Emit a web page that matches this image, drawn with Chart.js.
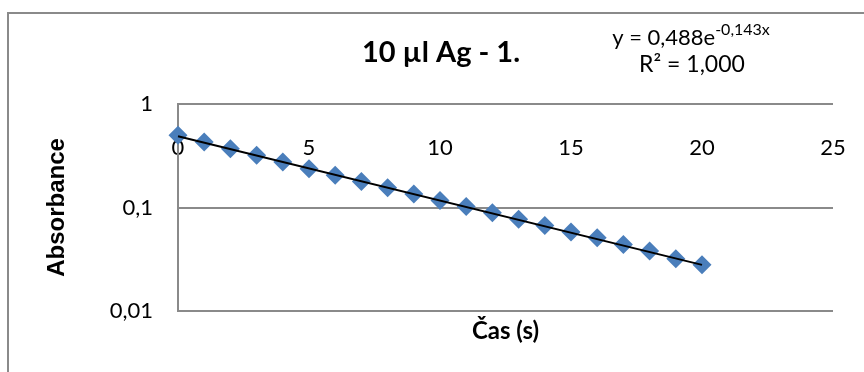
<!DOCTYPE html>
<html>
<head>
<meta charset="utf-8">
<script src="https://cdn.jsdelivr.net/npm/chart.js@4/dist/chart.umd.min.js"></script>
<style>
html,body{margin:0;padding:0;background:#fff;}
#wrap{width:864px;height:372px;position:relative;}
</style>
</head>
<body>
<div id="wrap"><canvas id="c" width="864" height="372"></canvas></div>
<script>
// ---- data ----
const timeValues = [0,1,2,3,4,5,6,7,8,9,10,11,12,13,14,15,16,17,18,19,20];
const absorbanceValues = [0.50,0.43,0.37,0.32,0.275,0.237,0.205,0.178,0.155,0.135,0.117,0.102,0.089,0.077,0.067,0.058,0.051,0.044,0.038,0.032,0.028];
const trendX = [0, 20];
const trendY = [0.488, 0.0279];
const xTickValues = [0,5,10,15,20,25];
const yTickValues = [0.01,0.1,1];
const chartTitle = '10 µl Ag - 1.';
const xTitle = 'Čas (s)';
const yTitle = 'Absorbance';
const eqMain = 'y = 0,488e';
const eqSup = '-0,143x';
const eqR2 = 'R² = 1,000';

const FONT = 'Lato, "Open Sans", sans-serif';

const scatterData = timeValues.map((t,i)=>({x:t, y:absorbanceValues[i]}));
const trendData = trendX.map((t,i)=>({x:t, y:trendY[i]}));

const decor = {
  id:'decor',
  beforeDraw(chart){
    const ctx = chart.ctx;
    ctx.save();
    ctx.strokeStyle = '#8a8a8a';
    ctx.lineWidth = 2;
    ctx.strokeRect(8, 13, 900, 400);
    ctx.restore();
  },
  afterDraw(chart){
    const ctx = chart.ctx;
    const area = chart.chartArea;
    ctx.save();
    ctx.fillStyle = '#000';
    ctx.textBaseline = 'alphabetic';
    // title
    ctx.font = 'bold 29px ' + FONT;
    ctx.textAlign = 'center';
    ctx.fillText(chartTitle, 441, 62);
    // x axis title
    ctx.font = 'bold 24px ' + FONT;
    ctx.fillText(xTitle, (area.left + area.right)/2, 339);
    // equation
    ctx.font = '22px ' + FONT;
    const wMain = ctx.measureText(eqMain).width;
    ctx.font = '16px ' + FONT;
    const wSup = ctx.measureText(eqSup).width;
    const startX = 691 - (wMain + wSup)/2;
    ctx.textAlign = 'left';
    ctx.font = '22px ' + FONT;
    ctx.fillText(eqMain, startX, 45);
    ctx.font = '16px ' + FONT;
    ctx.fillText(eqSup, startX + wMain, 35);
    ctx.textAlign = 'center';
    ctx.font = '23px ' + FONT;
    ctx.fillText(eqR2, 692, 72);
    ctx.restore();
  }
};

new Chart(document.getElementById('c'), {
  type: 'scatter',
  data: {
    datasets: [
      {
        label: 'trend',
        data: trendData,
        showLine: true,
        borderColor: '#000',
        borderWidth: 2,
        pointRadius: 0,
        fill: false,
        order: 0,
        clip: false
      },
      {
        label: 'Absorbance',
        data: scatterData,
        pointStyle: 'rectRot',
        pointRadius: 9.5,
        pointBackgroundColor: '#4a7ebb',
        pointBorderColor: '#4a7ebb',
        pointBorderWidth: 0,
        showLine: false,
        order: 1,
        clip: false
      }
    ]
  },
  options: {
    responsive: false,
    devicePixelRatio: 1,
    animation: false,
    layout: { padding: { left: 0, top: 104, right: 31, bottom: 61 } },
    plugins: { legend: { display: false }, tooltip: { enabled: false }, title: { display: false } },
    scales: {
      x: {
        type: 'linear',
        position: { y: 0.5 },
        min: 0, max: 25,
        afterBuildTicks(s){ s.ticks = xTickValues.map(v=>({value:v})); },
        ticks: { font: { family: FONT, size: 22 }, color: '#000', padding: 0, maxRotation: 0 },
        grid: { display: false, drawTicks: false },
        border: { display: false }
      },
      y: {
        type: 'logarithmic',
        position: 'left',
        min: 0.01, max: 1,
        afterBuildTicks(s){ s.ticks = yTickValues.map(v=>({value:v})); },
        afterFit(s){ s.width = 178; },
        ticks: {
          font: { family: FONT, size: 22 }, color: '#000', padding: 25,
          callback: (v)=> String(v).replace('.', ',')
        },
        grid: { color: '#8a8a8a', lineWidth: 2, drawTicks: false },
        border: { display: true, color: '#8a8a8a', width: 2 },
        title: {
          display: true, text: yTitle, color: '#000',
          font: { family: '"Liberation Sans", Arial, sans-serif', size: 24, weight: 'bold' },
          padding: { top: 43, bottom: 0 }
        }
      }
    }
  },
  plugins: [decor]
});
</script>
</body>
</html>
